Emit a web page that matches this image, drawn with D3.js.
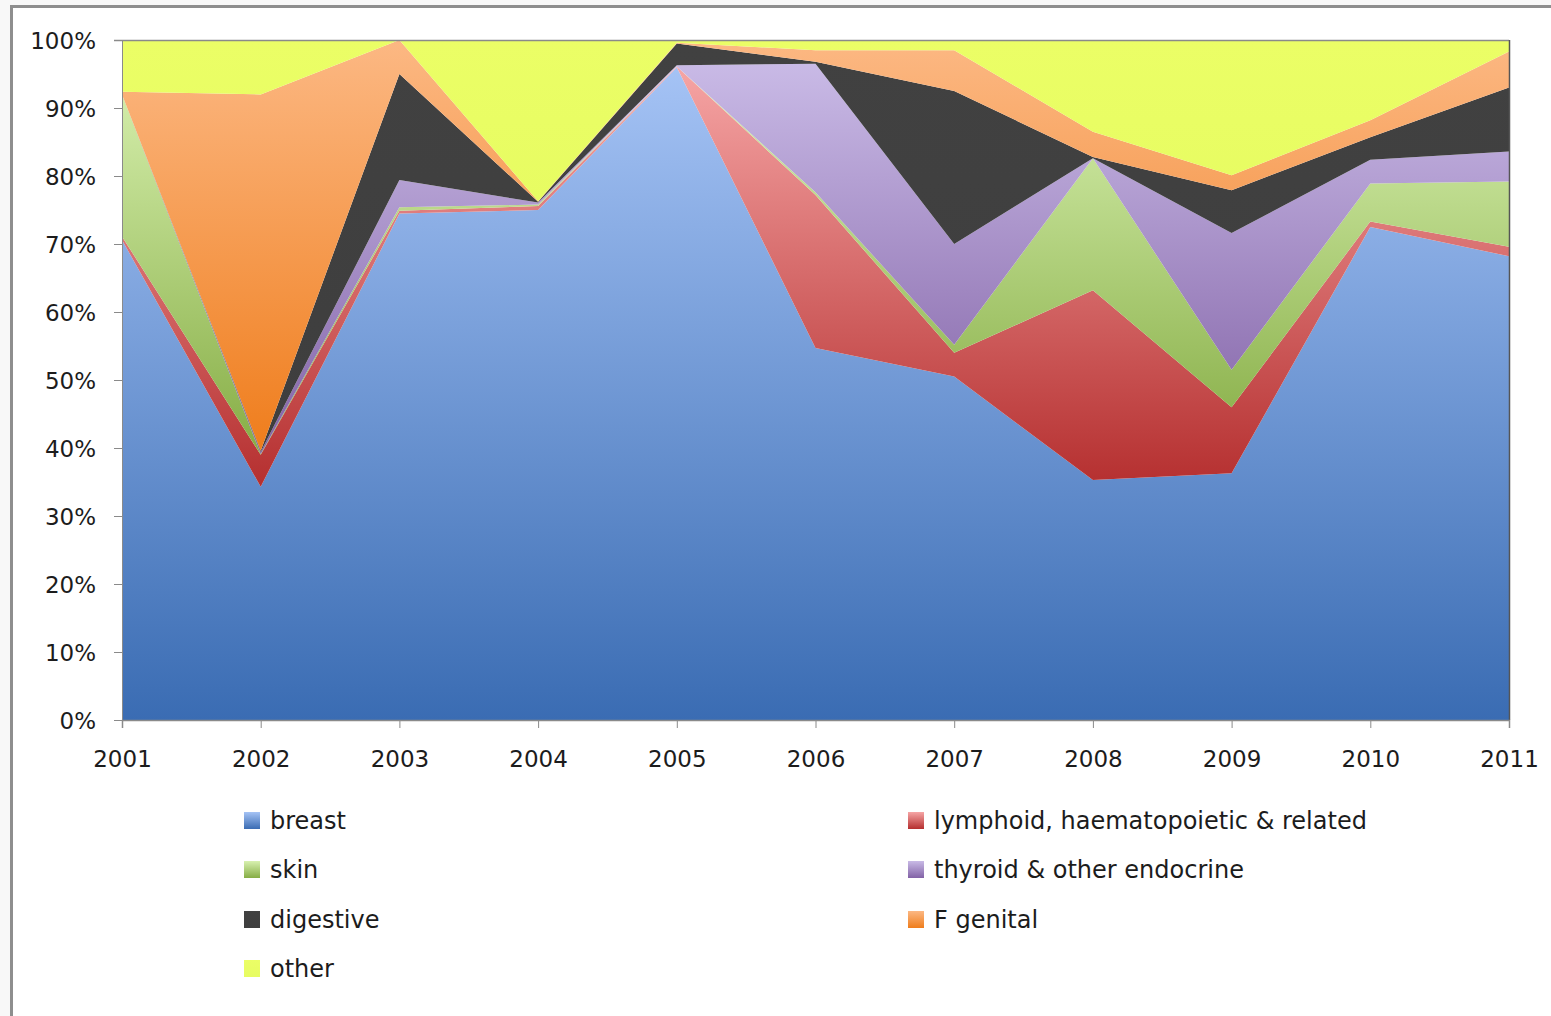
<!DOCTYPE html>
<html>
<head>
<meta charset="utf-8">
<script src="https://cdn.jsdelivr.net/npm/d3@7"></script>
<style>
  html, body { margin: 0; padding: 0; background: #f8f8f8; }
  svg { display: block; }
  text { font-family: "DejaVu Sans", sans-serif; fill: #1c1c1c; }
</style>
</head>
<body>
<svg id="chart" width="1551" height="1016"></svg>
<script>
// Share of cases by site, per year (percent of the yearly total)
const years = [2001, 2002, 2003, 2004, 2005, 2006, 2007, 2008, 2009, 2010, 2011];

const breast    = [70.6, 34.3, 74.5, 75.0, 96.0, 54.7, 50.5, 35.3, 36.3, 72.5, 68.2];
const lymphoid  = [ 0.5,  4.7,  0.4,  0.6,  0.1, 22.5,  3.5, 27.9,  9.7,  0.8,  1.4];
const skin      = [20.9,  0.1,  0.5,  0.2,  0.0,  0.4,  1.2, 19.4,  5.5,  5.6,  9.6];
const thyroid   = [ 0.0,  0.3,  4.0,  0.3,  0.2, 18.9, 14.8,  0.0, 20.1,  3.5,  4.4];
const digestive = [ 0.0,  0.2, 15.6,  0.1,  3.2,  0.3, 22.5,  0.2,  6.3,  3.3,  9.4];
const fGenital  = [ 0.4, 52.4,  5.0,  0.1,  0.1,  1.7,  6.0,  3.7,  2.2,  2.5,  5.3];
const other     = [ 7.6,  8.0,  0.0, 23.7,  0.4,  1.5,  1.5, 13.5, 19.9, 11.8,  1.7];

const seriesNames = ["breast", "lymphoid, haematopoietic & related", "skin",
                     "thyroid & other endocrine", "digestive", "F genital", "other"];
const seriesValues = [breast, lymphoid, skin, thyroid, digestive, fGenital, other];

const yTickLabels = ["0%", "10%", "20%", "30%", "40%", "50%", "60%", "70%", "80%", "90%", "100%"];

// top / bottom colour of each series' vertical gradient
const gradStops = [
  ["#a5c3f5", "#3a6cb3"],
  ["#f6a5a5", "#b52f2f"],
  ["#d8f1b0", "#86ad45"],
  ["#c9bae6", "#8262a6"],
  ["#414141", "#3e3e3e"],
  ["#fcb883", "#ef7d1c"],
  ["#ebfe66", "#e7fc62"]
];

const svg = d3.select("#chart");

// chart frame
svg.append("rect").attr("x", 0).attr("y", 0).attr("width", 1551).attr("height", 1016).attr("fill", "#f8f8f8");
svg.append("rect").attr("x", 11.5).attr("y", 6.5).attr("width", 1600).attr("height", 1100)
  .attr("fill", "#ffffff").attr("stroke", "#8e8e8e").attr("stroke-width", 3);

const plot = { left: 122, right: 1509, top: 40, bottom: 720 };

const x = d3.scaleLinear().domain([years[0], years[years.length - 1]]).range([plot.left, plot.right]);
const y = d3.scaleLinear().domain([0, 1]).range([plot.bottom, plot.top]);

// gradients
const defs = svg.append("defs");
gradStops.forEach((c, i) => {
  const g = defs.append("linearGradient").attr("id", "grad" + i)
    .attr("x1", 0).attr("y1", 0).attr("x2", 0).attr("y2", 1);
  g.append("stop").attr("offset", "0%").attr("stop-color", c[0]);
  g.append("stop").attr("offset", "100%").attr("stop-color", c[1]);
});

// stacked table
const table = years.map((yr, j) => {
  const row = { year: yr };
  seriesNames.forEach((n, i) => { row[n] = seriesValues[i][j]; });
  return row;
});

const stack = d3.stack().keys(seriesNames).offset(d3.stackOffsetExpand);
const layers = stack(table);

const area = d3.area()
  .x(d => x(d.data.year))
  .y0(d => y(d[0]))
  .y1(d => y(d[1]));

svg.append("g").selectAll("path").data(layers).join("path")
  .attr("d", area)
  .attr("fill", (d, i) => `url(#grad${i})`);

// plot borders
svg.append("line").attr("x1", 114).attr("x2", plot.right).attr("y1", plot.top + 0.5).attr("y2", plot.top + 0.5)
  .attr("stroke", "#8a8a8a").attr("stroke-width", 1.5);
svg.append("line").attr("x1", plot.right + 0.5).attr("x2", plot.right + 0.5).attr("y1", plot.top).attr("y2", plot.bottom)
  .attr("stroke", "#555").attr("stroke-width", 1.5);

// y axis
const yAxis = d3.axisLeft(y)
  .tickValues(d3.range(0, 1.0001, 0.1))
  .tickFormat((d, i) => yTickLabels[i])
  .tickSize(8).tickPadding(18);
const gy = svg.append("g").attr("transform", `translate(${plot.left},0)`).call(yAxis);
gy.select(".domain").attr("stroke", "#8a8a8a");
gy.selectAll(".tick line").attr("stroke", "#8a8a8a");
gy.selectAll(".tick text").style("font-size", "23px").attr("fill", "#1c1c1c").attr("dy", "0.36em");

// x axis
const xAxis = d3.axisBottom(x)
  .tickValues(years)
  .tickFormat(d3.format("d"))
  .tickSize(8).tickPadding(23);
const gx = svg.append("g").attr("transform", `translate(0,${plot.bottom})`).call(xAxis);
gx.select(".domain").attr("stroke", "#8a8a8a").attr("stroke-width", 1.5);
gx.selectAll(".tick line").attr("stroke", "#8a8a8a");
gx.selectAll(".tick text").style("font-size", "23px").attr("fill", "#1c1c1c");

// legend
const legendPos = [
  [244, 820], [908, 820],
  [244, 869], [908, 869],
  [244, 919], [908, 919],
  [244, 968]
];
const lg = svg.append("g").selectAll("g").data(seriesNames).join("g")
  .attr("transform", (d, i) => `translate(${legendPos[i][0]},${legendPos[i][1]})`);
lg.append("rect").attr("x", 0).attr("y", -8).attr("width", 16).attr("height", 17)
  .attr("fill", (d, i) => `url(#grad${i})`);
lg.append("text").attr("x", 26).attr("y", 0).attr("dy", "0.36em")
  .style("font-size", "24px").text(d => d);
</script>
</body>
</html>
